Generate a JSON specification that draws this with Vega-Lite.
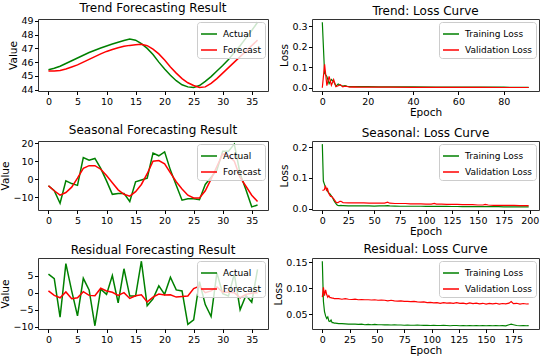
{
  "$schema": "https://vega.github.io/schema/vega-lite/v6.json",
  "background": "white",
  "padding": {"left": 0, "top": 1, "right": 2, "bottom": 0},
  "config": {
    "font": "DejaVu Sans",
    "view": {"stroke": "#333", "strokeWidth": 1},
    "title": {"fontSize": 12, "fontWeight": "normal", "font": "DejaVu Sans", "color": "#000", "offset": 1},
    "axis": {"grid": false, "domain": false, "tickColor": "#000", "tickSize": 3.5, "labelFontSize": 9.5, "labelColor": "#000", "labelPadding": 1.5, "titleFontSize": 10.5, "titleFontWeight": "normal", "titleColor": "#000", "titlePadding": 2, "labelFont": "DejaVu Sans", "titleFont": "DejaVu Sans"},
    "legend": {"orient": "top-right", "offset": 3, "symbolType": "stroke", "symbolSize": 256, "symbolStrokeWidth": 1.5, "labelFontSize": 9, "labelColor": "#000", "labelFont": "DejaVu Sans", "labelOffset": 5, "padding": 3, "rowPadding": 2, "fillColor": "rgba(255,255,255,0.8)", "strokeColor": "#ccc", "cornerRadius": 3, "title": null}
  },
  "resolve": {"scale": {"color": "independent"}, "legend": {"color": "independent"}},
  "columns": 2,
  "spacing": {"row": 4, "column": 4},
  "datasets": {
    "trend": [
      {"t": 0, "Actual": 45.45, "Forecast": 45.35}, {"t": 1, "Actual": 45.55, "Forecast": 45.35}, {"t": 2, "Actual": 45.7, "Forecast": 45.4},
      {"t": 3, "Actual": 45.9, "Forecast": 45.5}, {"t": 4, "Actual": 46.1, "Forecast": 45.65}, {"t": 5, "Actual": 46.3, "Forecast": 45.8},
      {"t": 6, "Actual": 46.5, "Forecast": 46.0}, {"t": 7, "Actual": 46.7, "Forecast": 46.2}, {"t": 8, "Actual": 46.87, "Forecast": 46.4},
      {"t": 9, "Actual": 47.03, "Forecast": 46.6}, {"t": 10, "Actual": 47.18, "Forecast": 46.78}, {"t": 11, "Actual": 47.32, "Forecast": 46.92},
      {"t": 12, "Actual": 47.45, "Forecast": 47.05}, {"t": 13, "Actual": 47.58, "Forecast": 47.15}, {"t": 14, "Actual": 47.68, "Forecast": 47.22},
      {"t": 15, "Actual": 47.6, "Forecast": 47.27}, {"t": 16, "Actual": 47.35, "Forecast": 47.3}, {"t": 17, "Actual": 47.0, "Forecast": 47.2},
      {"t": 18, "Actual": 46.55, "Forecast": 46.95}, {"t": 19, "Actual": 46.0, "Forecast": 46.6}, {"t": 20, "Actual": 45.5, "Forecast": 46.15},
      {"t": 21, "Actual": 45.05, "Forecast": 45.65}, {"t": 22, "Actual": 44.65, "Forecast": 45.2}, {"t": 23, "Actual": 44.35, "Forecast": 44.8},
      {"t": 24, "Actual": 44.2, "Forecast": 44.5}, {"t": 25, "Actual": 44.15, "Forecast": 44.3}, {"t": 26, "Actual": 44.3, "Forecast": 44.15},
      {"t": 27, "Actual": 44.6, "Forecast": 44.2}, {"t": 28, "Actual": 44.95, "Forecast": 44.45}, {"t": 29, "Actual": 45.35, "Forecast": 44.8},
      {"t": 30, "Actual": 45.75, "Forecast": 45.2}, {"t": 31, "Actual": 46.2, "Forecast": 45.6}, {"t": 32, "Actual": 46.7, "Forecast": 46.0},
      {"t": 33, "Actual": 47.2, "Forecast": 46.4}, {"t": 34, "Actual": 47.75, "Forecast": 46.8}, {"t": 35, "Actual": 48.3, "Forecast": 47.2},
      {"t": 36, "Actual": 48.9, "Forecast": 47.6}
    ],
    "seasonal": [
      {"t": 0, "Actual": -3.7, "Forecast": -3.7}, {"t": 1, "Actual": -6.5, "Forecast": -6.5}, {"t": 2, "Actual": -13.5, "Forecast": -9.0},
      {"t": 3, "Actual": -1.0, "Forecast": -7.5}, {"t": 4, "Actual": -2.5, "Forecast": -4.5}, {"t": 5, "Actual": -3.5, "Forecast": 0.5},
      {"t": 6, "Actual": 12.0, "Forecast": 6.0}, {"t": 7, "Actual": 10.5, "Forecast": 7.5}, {"t": 8, "Actual": 11.5, "Forecast": 7.5},
      {"t": 9, "Actual": 6.0, "Forecast": 5.5}, {"t": 10, "Actual": -1.0, "Forecast": 2.0}, {"t": 11, "Actual": -8.5, "Forecast": -2.0},
      {"t": 12, "Actual": -8.0, "Forecast": -6.0}, {"t": 13, "Actual": -8.0, "Forecast": -8.5}, {"t": 14, "Actual": -12.5, "Forecast": -9.5},
      {"t": 15, "Actual": -1.5, "Forecast": -7.0}, {"t": 16, "Actual": -0.5, "Forecast": -3.0}, {"t": 17, "Actual": 0.5, "Forecast": 3.0},
      {"t": 18, "Actual": 14.5, "Forecast": 10.0}, {"t": 19, "Actual": 13.0, "Forecast": 10.3}, {"t": 20, "Actual": 15.2, "Forecast": 8.5},
      {"t": 21, "Actual": 5.0, "Forecast": 3.5}, {"t": 22, "Actual": -3.5, "Forecast": -1.5}, {"t": 23, "Actual": -11.8, "Forecast": -5.5},
      {"t": 24, "Actual": -11.0, "Forecast": -9.0}, {"t": 25, "Actual": -11.0, "Forecast": -10.5}, {"t": 26, "Actual": -11.5, "Forecast": -10.5},
      {"t": 27, "Actual": -3.0, "Forecast": -6.5}, {"t": 28, "Actual": 1.0, "Forecast": 0.0}, {"t": 29, "Actual": 5.0, "Forecast": 7.0},
      {"t": 30, "Actual": 15.5, "Forecast": 14.0}, {"t": 31, "Actual": 15.5, "Forecast": 13.0}, {"t": 32, "Actual": 19.5, "Forecast": 10.0},
      {"t": 33, "Actual": 3.0, "Forecast": 1.0}, {"t": 34, "Actual": -6.0, "Forecast": -4.0}, {"t": 35, "Actual": -15.5, "Forecast": -9.0},
      {"t": 36, "Actual": -14.5, "Forecast": -12.5}
    ],
    "residual": [
      {"t": 0, "Actual": 5.4, "Forecast": 0.5}, {"t": 1, "Actual": 4.1, "Forecast": -0.8}, {"t": 2, "Actual": -7.2, "Forecast": -1.5},
      {"t": 3, "Actual": 8.5, "Forecast": 0.2}, {"t": 4, "Actual": 0.5, "Forecast": -1.8}, {"t": 5, "Actual": -6.8, "Forecast": -1.5},
      {"t": 6, "Actual": 4.2, "Forecast": 0.3}, {"t": 7, "Actual": 0.8, "Forecast": -0.8}, {"t": 8, "Actual": -9.7, "Forecast": -0.9},
      {"t": 9, "Actual": 1.0, "Forecast": 1.3}, {"t": 10, "Actual": -0.5, "Forecast": 0.5}, {"t": 11, "Actual": 5.0, "Forecast": 0.1},
      {"t": 12, "Actual": -3.0, "Forecast": -0.8}, {"t": 13, "Actual": 7.0, "Forecast": 0.0}, {"t": 14, "Actual": -1.0, "Forecast": -1.7},
      {"t": 15, "Actual": -1.0, "Forecast": -0.9}, {"t": 16, "Actual": 9.2, "Forecast": -0.6}, {"t": 17, "Actual": -3.8, "Forecast": -2.7},
      {"t": 18, "Actual": -1.8, "Forecast": -1.3}, {"t": 19, "Actual": 2.0, "Forecast": -0.4}, {"t": 20, "Actual": -0.5, "Forecast": -0.7},
      {"t": 21, "Actual": 4.5, "Forecast": -0.6}, {"t": 22, "Actual": 0.8, "Forecast": -1.3}, {"t": 23, "Actual": 0.5, "Forecast": -1.1},
      {"t": 24, "Actual": -9.3, "Forecast": -1.0}, {"t": 25, "Actual": -8.0, "Forecast": 1.2}, {"t": 26, "Actual": 3.2, "Forecast": 1.9},
      {"t": 27, "Actual": -3.5, "Forecast": 0.0}, {"t": 28, "Actual": -7.0, "Forecast": 0.5}, {"t": 29, "Actual": 5.8, "Forecast": 1.7},
      {"t": 30, "Actual": -0.3, "Forecast": 0.1}, {"t": 31, "Actual": -1.0, "Forecast": 0.1}, {"t": 32, "Actual": 5.5, "Forecast": 0.0},
      {"t": 33, "Actual": -5.0, "Forecast": -1.5}, {"t": 34, "Actual": -0.8, "Forecast": -0.5}, {"t": 35, "Actual": -2.8, "Forecast": -0.2},
      {"t": 36, "Actual": 6.8, "Forecast": 0.0}
    ],
    "trendLoss": [
      {"epoch": 0, "Training Loss": 0.32, "Validation Loss": 0.0}, {"epoch": 1, "Training Loss": 0.07, "Validation Loss": 0.115},
      {"epoch": 2, "Training Loss": 0.055, "Validation Loss": 0.01}, {"epoch": 3, "Training Loss": 0.02, "Validation Loss": 0.055},
      {"epoch": 4, "Training Loss": 0.04, "Validation Loss": 0.012}, {"epoch": 5, "Training Loss": 0.03, "Validation Loss": 0.04},
      {"epoch": 6, "Training Loss": 0.008, "Validation Loss": 0.005}, {"epoch": 7, "Training Loss": 0.018, "Validation Loss": 0.01},
      {"epoch": 8, "Training Loss": 0.012, "Validation Loss": 0.015}, {"epoch": 9, "Training Loss": 0.008, "Validation Loss": 0.004},
      {"epoch": 10, "Training Loss": 0.01, "Validation Loss": 0.008}, {"epoch": 11, "Training Loss": 0.007, "Validation Loss": 0.006},
      {"epoch": 12, "Training Loss": 0.006, "Validation Loss": 0.003}, {"epoch": 14, "Training Loss": 0.005, "Validation Loss": 0.004},
      {"epoch": 16, "Training Loss": 0.005, "Validation Loss": 0.003}, {"epoch": 20, "Training Loss": 0.005, "Validation Loss": 0.003},
      {"epoch": 25, "Training Loss": 0.0045, "Validation Loss": 0.0025}, {"epoch": 30, "Training Loss": 0.0045, "Validation Loss": 0.0025},
      {"epoch": 40, "Training Loss": 0.004, "Validation Loss": 0.002}, {"epoch": 50, "Training Loss": 0.0035, "Validation Loss": 0.002},
      {"epoch": 60, "Training Loss": 0.003, "Validation Loss": 0.0015}, {"epoch": 70, "Training Loss": 0.003, "Validation Loss": 0.0015},
      {"epoch": 80, "Training Loss": 0.0025, "Validation Loss": 0.001}, {"epoch": 91, "Training Loss": 0.002, "Validation Loss": 0.001}
    ],
    "seasonalLoss": [
      {"epoch": 0, "Training Loss": 0.21, "Validation Loss": 0.06}, {"epoch": 1, "Training Loss": 0.09, "Validation Loss": 0.06},
      {"epoch": 2, "Training Loss": 0.08, "Validation Loss": 0.062}, {"epoch": 3, "Training Loss": 0.07, "Validation Loss": 0.075},
      {"epoch": 4, "Training Loss": 0.065, "Validation Loss": 0.06}, {"epoch": 5, "Training Loss": 0.058, "Validation Loss": 0.065},
      {"epoch": 6, "Training Loss": 0.052, "Validation Loss": 0.052}, {"epoch": 7, "Training Loss": 0.05, "Validation Loss": 0.045},
      {"epoch": 8, "Training Loss": 0.045, "Validation Loss": 0.04}, {"epoch": 9, "Training Loss": 0.04, "Validation Loss": 0.04},
      {"epoch": 10, "Training Loss": 0.035, "Validation Loss": 0.036}, {"epoch": 11, "Training Loss": 0.028, "Validation Loss": 0.032},
      {"epoch": 12, "Training Loss": 0.022, "Validation Loss": 0.027}, {"epoch": 13, "Training Loss": 0.017, "Validation Loss": 0.022},
      {"epoch": 14, "Training Loss": 0.013, "Validation Loss": 0.02}, {"epoch": 15, "Training Loss": 0.011, "Validation Loss": 0.02},
      {"epoch": 16, "Training Loss": 0.01, "Validation Loss": 0.022}, {"epoch": 17, "Training Loss": 0.01, "Validation Loss": 0.024},
      {"epoch": 18, "Training Loss": 0.011, "Validation Loss": 0.024}, {"epoch": 19, "Training Loss": 0.01, "Validation Loss": 0.022},
      {"epoch": 20, "Training Loss": 0.01, "Validation Loss": 0.02}, {"epoch": 25, "Training Loss": 0.009, "Validation Loss": 0.019},
      {"epoch": 30, "Training Loss": 0.009, "Validation Loss": 0.019}, {"epoch": 35, "Training Loss": 0.009, "Validation Loss": 0.019},
      {"epoch": 40, "Training Loss": 0.009, "Validation Loss": 0.019}, {"epoch": 45, "Training Loss": 0.009, "Validation Loss": 0.018},
      {"epoch": 50, "Training Loss": 0.0085, "Validation Loss": 0.018}, {"epoch": 55, "Training Loss": 0.009, "Validation Loss": 0.018},
      {"epoch": 60, "Training Loss": 0.009, "Validation Loss": 0.018}, {"epoch": 63, "Training Loss": 0.01, "Validation Loss": 0.021},
      {"epoch": 65, "Training Loss": 0.009, "Validation Loss": 0.018}, {"epoch": 70, "Training Loss": 0.0085, "Validation Loss": 0.017},
      {"epoch": 75, "Training Loss": 0.008, "Validation Loss": 0.017}, {"epoch": 80, "Training Loss": 0.008, "Validation Loss": 0.017},
      {"epoch": 85, "Training Loss": 0.008, "Validation Loss": 0.016}, {"epoch": 90, "Training Loss": 0.008, "Validation Loss": 0.016},
      {"epoch": 95, "Training Loss": 0.008, "Validation Loss": 0.016}, {"epoch": 100, "Training Loss": 0.0078, "Validation Loss": 0.015},
      {"epoch": 105, "Training Loss": 0.0078, "Validation Loss": 0.015}, {"epoch": 108, "Training Loss": 0.008, "Validation Loss": 0.017},
      {"epoch": 110, "Training Loss": 0.0078, "Validation Loss": 0.015}, {"epoch": 115, "Training Loss": 0.0075, "Validation Loss": 0.015},
      {"epoch": 120, "Training Loss": 0.0075, "Validation Loss": 0.014}, {"epoch": 125, "Training Loss": 0.0072, "Validation Loss": 0.014},
      {"epoch": 130, "Training Loss": 0.0072, "Validation Loss": 0.014}, {"epoch": 135, "Training Loss": 0.007, "Validation Loss": 0.013},
      {"epoch": 140, "Training Loss": 0.007, "Validation Loss": 0.013}, {"epoch": 145, "Training Loss": 0.007, "Validation Loss": 0.013},
      {"epoch": 150, "Training Loss": 0.0068, "Validation Loss": 0.012}, {"epoch": 155, "Training Loss": 0.0068, "Validation Loss": 0.012},
      {"epoch": 157, "Training Loss": 0.007, "Validation Loss": 0.014}, {"epoch": 160, "Training Loss": 0.0065, "Validation Loss": 0.012},
      {"epoch": 165, "Training Loss": 0.0065, "Validation Loss": 0.011}, {"epoch": 170, "Training Loss": 0.0065, "Validation Loss": 0.011},
      {"epoch": 175, "Training Loss": 0.0062, "Validation Loss": 0.011}, {"epoch": 180, "Training Loss": 0.0062, "Validation Loss": 0.011},
      {"epoch": 185, "Training Loss": 0.006, "Validation Loss": 0.011}, {"epoch": 190, "Training Loss": 0.006, "Validation Loss": 0.01},
      {"epoch": 195, "Training Loss": 0.006, "Validation Loss": 0.01}, {"epoch": 199, "Training Loss": 0.006, "Validation Loss": 0.01}
    ],
    "residualLoss": [
      {"epoch": 0, "Training Loss": 0.152, "Validation Loss": 0.083}, {"epoch": 1, "Training Loss": 0.075, "Validation Loss": 0.102},
      {"epoch": 2, "Training Loss": 0.055, "Validation Loss": 0.086}, {"epoch": 3, "Training Loss": 0.047, "Validation Loss": 0.097},
      {"epoch": 4, "Training Loss": 0.042, "Validation Loss": 0.088}, {"epoch": 5, "Training Loss": 0.045, "Validation Loss": 0.083},
      {"epoch": 6, "Training Loss": 0.037, "Validation Loss": 0.086}, {"epoch": 7, "Training Loss": 0.036, "Validation Loss": 0.082},
      {"epoch": 8, "Training Loss": 0.039, "Validation Loss": 0.082}, {"epoch": 9, "Training Loss": 0.034, "Validation Loss": 0.081},
      {"epoch": 10, "Training Loss": 0.034, "Validation Loss": 0.081}, {"epoch": 11, "Training Loss": 0.033, "Validation Loss": 0.08},
      {"epoch": 12, "Training Loss": 0.033, "Validation Loss": 0.08}, {"epoch": 15, "Training Loss": 0.032, "Validation Loss": 0.08},
      {"epoch": 18, "Training Loss": 0.032, "Validation Loss": 0.079}, {"epoch": 21, "Training Loss": 0.0315, "Validation Loss": 0.08},
      {"epoch": 24, "Training Loss": 0.031, "Validation Loss": 0.079}, {"epoch": 27, "Training Loss": 0.031, "Validation Loss": 0.0785},
      {"epoch": 30, "Training Loss": 0.031, "Validation Loss": 0.079}, {"epoch": 33, "Training Loss": 0.0305, "Validation Loss": 0.078},
      {"epoch": 36, "Training Loss": 0.031, "Validation Loss": 0.0785}, {"epoch": 39, "Training Loss": 0.03, "Validation Loss": 0.078},
      {"epoch": 42, "Training Loss": 0.0305, "Validation Loss": 0.078}, {"epoch": 45, "Training Loss": 0.03, "Validation Loss": 0.0775},
      {"epoch": 48, "Training Loss": 0.0305, "Validation Loss": 0.078}, {"epoch": 51, "Training Loss": 0.03, "Validation Loss": 0.077},
      {"epoch": 54, "Training Loss": 0.03, "Validation Loss": 0.0775}, {"epoch": 57, "Training Loss": 0.0298, "Validation Loss": 0.077},
      {"epoch": 60, "Training Loss": 0.03, "Validation Loss": 0.076}, {"epoch": 63, "Training Loss": 0.0295, "Validation Loss": 0.077},
      {"epoch": 66, "Training Loss": 0.03, "Validation Loss": 0.076}, {"epoch": 69, "Training Loss": 0.0295, "Validation Loss": 0.0755},
      {"epoch": 72, "Training Loss": 0.0295, "Validation Loss": 0.076}, {"epoch": 75, "Training Loss": 0.029, "Validation Loss": 0.075},
      {"epoch": 78, "Training Loss": 0.0295, "Validation Loss": 0.075}, {"epoch": 81, "Training Loss": 0.029, "Validation Loss": 0.0745},
      {"epoch": 84, "Training Loss": 0.029, "Validation Loss": 0.075}, {"epoch": 87, "Training Loss": 0.0292, "Validation Loss": 0.074},
      {"epoch": 90, "Training Loss": 0.029, "Validation Loss": 0.0735}, {"epoch": 93, "Training Loss": 0.0288, "Validation Loss": 0.074},
      {"epoch": 96, "Training Loss": 0.029, "Validation Loss": 0.0725}, {"epoch": 99, "Training Loss": 0.0285, "Validation Loss": 0.073},
      {"epoch": 102, "Training Loss": 0.029, "Validation Loss": 0.072}, {"epoch": 105, "Training Loss": 0.0285, "Validation Loss": 0.0725},
      {"epoch": 108, "Training Loss": 0.0285, "Validation Loss": 0.071}, {"epoch": 111, "Training Loss": 0.029, "Validation Loss": 0.0725},
      {"epoch": 114, "Training Loss": 0.0285, "Validation Loss": 0.0715}, {"epoch": 117, "Training Loss": 0.028, "Validation Loss": 0.072},
      {"epoch": 120, "Training Loss": 0.0285, "Validation Loss": 0.071}, {"epoch": 123, "Training Loss": 0.0285, "Validation Loss": 0.0725},
      {"epoch": 126, "Training Loss": 0.028, "Validation Loss": 0.071}, {"epoch": 129, "Training Loss": 0.0285, "Validation Loss": 0.0715},
      {"epoch": 132, "Training Loss": 0.028, "Validation Loss": 0.07}, {"epoch": 135, "Training Loss": 0.0285, "Validation Loss": 0.0718},
      {"epoch": 138, "Training Loss": 0.028, "Validation Loss": 0.0705}, {"epoch": 141, "Training Loss": 0.0282, "Validation Loss": 0.0715},
      {"epoch": 144, "Training Loss": 0.028, "Validation Loss": 0.07}, {"epoch": 147, "Training Loss": 0.0285, "Validation Loss": 0.0712},
      {"epoch": 150, "Training Loss": 0.028, "Validation Loss": 0.0698}, {"epoch": 153, "Training Loss": 0.0282, "Validation Loss": 0.071},
      {"epoch": 156, "Training Loss": 0.028, "Validation Loss": 0.0702}, {"epoch": 159, "Training Loss": 0.0285, "Validation Loss": 0.0712},
      {"epoch": 162, "Training Loss": 0.028, "Validation Loss": 0.0698}, {"epoch": 165, "Training Loss": 0.0282, "Validation Loss": 0.0708},
      {"epoch": 168, "Training Loss": 0.028, "Validation Loss": 0.07}, {"epoch": 171, "Training Loss": 0.03, "Validation Loss": 0.0715},
      {"epoch": 173, "Training Loss": 0.031, "Validation Loss": 0.0745}, {"epoch": 175, "Training Loss": 0.03, "Validation Loss": 0.0705},
      {"epoch": 178, "Training Loss": 0.0285, "Validation Loss": 0.0712}, {"epoch": 181, "Training Loss": 0.028, "Validation Loss": 0.0698},
      {"epoch": 184, "Training Loss": 0.0282, "Validation Loss": 0.0708}, {"epoch": 187, "Training Loss": 0.028, "Validation Loss": 0.0698},
      {"epoch": 189, "Training Loss": 0.0282, "Validation Loss": 0.0702}
    ]
  },
  "concat": [
    {
      "title": "Trend Forecasting Result",
      "width": 230, "height": 72,
      "data": {"name": "trend"},
      "transform": [{"fold": ["Actual", "Forecast"], "as": ["series", "value"]}],
      "mark": {"type": "line", "strokeWidth": 1.5, "clip": true},
      "encoding": {
        "x": {"field": "t", "type": "quantitative", "scale": {"domain": [-1.8, 37.8], "nice": false, "zero": false}, "axis": {"values": [0, 5, 10, 15, 20, 25, 30, 35], "title": null}},
        "y": {"field": "value", "type": "quantitative", "scale": {"domain": [43.9, 49.14], "nice": false, "zero": false}, "axis": {"values": [44, 45, 46, 47, 48, 49], "title": "Value"}},
        "color": {"field": "series", "type": "nominal", "scale": {"domain": ["Actual", "Forecast"], "range": ["#008000", "#ff0000"]}}
      }
    },
    {
      "title": "Trend: Loss Curve",
      "width": 227, "height": 72,
      "data": {"name": "trendLoss"},
      "transform": [{"fold": ["Training Loss", "Validation Loss"], "as": ["series", "loss"]}],
      "mark": {"type": "line", "strokeWidth": 1.2, "clip": true},
      "encoding": {
        "x": {"field": "epoch", "type": "quantitative", "scale": {"domain": [-4.55, 95.55], "nice": false, "zero": false}, "axis": {"values": [0, 20, 40, 60, 80], "title": "Epoch"}},
        "y": {"field": "loss", "type": "quantitative", "scale": {"domain": [-0.016, 0.336], "nice": false, "zero": false}, "axis": {"values": [0, 0.1, 0.2, 0.3], "format": ".1f", "title": "Loss"}},
        "color": {"field": "series", "type": "nominal", "scale": {"domain": ["Training Loss", "Validation Loss"], "range": ["#008000", "#ff0000"]}}
      }
    },
    {
      "title": "Seasonal Forecasting Result",
      "width": 230, "height": 69,
      "data": {"name": "seasonal"},
      "transform": [{"fold": ["Actual", "Forecast"], "as": ["series", "value"]}],
      "mark": {"type": "line", "strokeWidth": 1.5, "clip": true},
      "encoding": {
        "x": {"field": "t", "type": "quantitative", "scale": {"domain": [-1.8, 37.8], "nice": false, "zero": false}, "axis": {"values": [0, 5, 10, 15, 20, 25, 30, 35], "title": null}},
        "y": {"field": "value", "type": "quantitative", "scale": {"domain": [-17.25, 21.25], "nice": false, "zero": false}, "axis": {"values": [-10, 0, 10, 20], "title": "Value"}},
        "color": {"field": "series", "type": "nominal", "scale": {"domain": ["Actual", "Forecast"], "range": ["#008000", "#ff0000"]}}
      }
    },
    {
      "title": "Seasonal: Loss Curve",
      "width": 227, "height": 69,
      "data": {"name": "seasonalLoss"},
      "transform": [{"fold": ["Training Loss", "Validation Loss"], "as": ["series", "loss"]}],
      "mark": {"type": "line", "strokeWidth": 1.2, "clip": true},
      "encoding": {
        "x": {"field": "epoch", "type": "quantitative", "scale": {"domain": [-9.95, 208.95], "nice": false, "zero": false}, "axis": {"values": [0, 25, 50, 75, 100, 125, 150, 175, 200], "title": "Epoch"}},
        "y": {"field": "loss", "type": "quantitative", "scale": {"domain": [-0.0042, 0.2202], "nice": false, "zero": false}, "axis": {"values": [0, 0.1, 0.2], "format": ".1f", "title": "Loss"}},
        "color": {"field": "series", "type": "nominal", "scale": {"domain": ["Training Loss", "Validation Loss"], "range": ["#008000", "#ff0000"]}}
      }
    },
    {
      "title": "Residual Forecasting Result",
      "width": 230, "height": 71,
      "data": {"name": "residual"},
      "transform": [{"fold": ["Actual", "Forecast"], "as": ["series", "value"]}],
      "mark": {"type": "line", "strokeWidth": 1.5, "clip": true},
      "encoding": {
        "x": {"field": "t", "type": "quantitative", "scale": {"domain": [-1.8, 37.8], "nice": false, "zero": false}, "axis": {"values": [0, 5, 10, 15, 20, 25, 30, 35], "title": null}},
        "y": {"field": "value", "type": "quantitative", "scale": {"domain": [-10.65, 10.15], "nice": false, "zero": false}, "axis": {"values": [-10, -5, 0, 5], "title": "Value"}},
        "color": {"field": "series", "type": "nominal", "scale": {"domain": ["Actual", "Forecast"], "range": ["#008000", "#ff0000"]}}
      }
    },
    {
      "title": "Residual: Loss Curve",
      "width": 227, "height": 71,
      "data": {"name": "residualLoss"},
      "transform": [{"fold": ["Training Loss", "Validation Loss"], "as": ["series", "loss"]}],
      "mark": {"type": "line", "strokeWidth": 1.2, "clip": true},
      "encoding": {
        "x": {"field": "epoch", "type": "quantitative", "scale": {"domain": [-9.45, 198.45], "nice": false, "zero": false}, "axis": {"values": [0, 25, 50, 75, 100, 125, 150, 175], "title": "Epoch"}},
        "y": {"field": "loss", "type": "quantitative", "scale": {"domain": [0.0218, 0.1582], "nice": false, "zero": false}, "axis": {"values": [0.05, 0.1, 0.15], "format": ".2f", "title": "Loss"}},
        "color": {"field": "series", "type": "nominal", "scale": {"domain": ["Training Loss", "Validation Loss"], "range": ["#008000", "#ff0000"]}}
      }
    }
  ]
}
